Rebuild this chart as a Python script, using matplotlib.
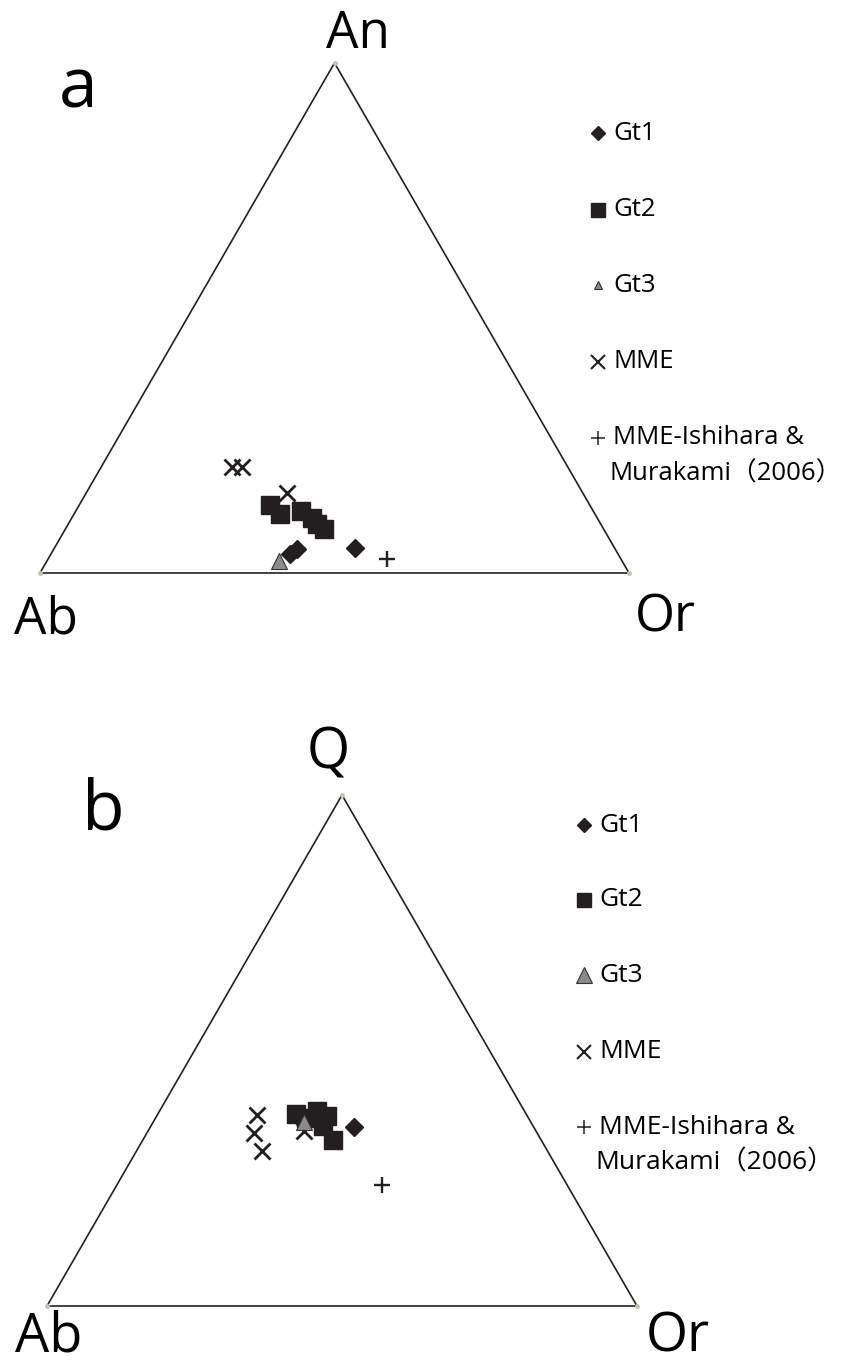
import numpy as np
import matplotlib
matplotlib.use("Agg")
import matplotlib.pyplot as plt

plt.rcParams["font.family"] = ["Open Sans", "Noto Sans CJK JP", "DejaVu Sans"]

W, H = 848, 1367
S3 = np.sqrt(3) / 2

# --- (a) Ab-An-Or normative feldspar, wt% ---
a_gt1 = {"Ab": [54.0, 55.7, 44.1], "An": [4.7, 3.7, 4.9], "Or": [41.3, 40.6, 51.0]}
a_gt2 = {"Ab": [54.3, 53.5, 49.6, 48.4, 48.2, 47.5],
         "An": [13.3, 11.6, 12.2, 10.8, 9.6, 8.6],
         "Or": [32.4, 34.9, 38.2, 40.8, 42.2, 43.9]}
a_gt3 = {"Ab": [58.2], "An": [2.4], "Or": [39.4]}
a_mme = {"Ab": [57.0, 55.3, 50.2], "An": [20.8, 20.8, 15.7], "Or": [22.2, 23.9, 34.1]}
a_ref = {"Ab": [39.8], "An": [2.7], "Or": [57.5]}

# --- (b) Ab-Q-Or ---
b_gt1 = {"Ab": [30.4], "Q": [35.1], "Or": [34.5]}
b_gt2 = {"Ab": [39.0, 37.8, 35.1, 34.0, 35.6, 35.3],
         "Q": [37.6, 36.7, 38.2, 37.1, 35.3, 32.4],
         "Or": [23.4, 25.5, 26.7, 28.9, 29.1, 32.3]}
b_gt3 = {"Ab": [38.4], "Q": [36.1], "Or": [25.5]}
b_mme = {"Ab": [45.7, 48.0, 48.4, 39.3], "Q": [37.3, 33.9, 30.4, 34.3],
         "Or": [17.0, 18.1, 21.2, 26.4]}
b_ref = {"Ab": [31.4], "Q": [23.7], "Or": [44.9]}

series_keys = ["Gt1", "Gt2", "Gt3", "MME", "ref"]
series_labels = ["Gt1", "Gt2", "Gt3", "MME", "MME-Ishihara &"]
ref_line2 = "Murakami\uff082006\uff09"


def tern(d, apex):
    # left corner Ab, right corner Or, top corner = apex
    ab, top, orr = (np.array(d[k], float) for k in ("Ab", apex, "Or"))
    tot = ab + top + orr
    top, orr = top / tot, orr / tot
    return orr + top / 2, top * S3


def make_axes(x0, y_base, side):
    ax = fig.add_axes([x0 / W, (H - y_base) / H, side / W, side * S3 / H])
    ax.set_xlim(0, 1)
    ax.set_ylim(0, S3)
    ax.axis("off")
    ax.plot([0, 1, 0.5, 0], [0, 0, S3, 0], color="#222222", lw=1.2,
            clip_on=False, zorder=1)
    ax.plot([0, 1, 0.5], [0, 0, S3], ls="none", marker="o", ms=2.5,
            color="#b9c9ad", clip_on=False, zorder=2)
    return ax


styles = {
    "Gt1": dict(marker="D", ms=9.5, color="#231f20", mec="#231f20"),
    "Gt2": dict(marker="s", ms=12.5, color="#231f20", mec="#231f20"),
    "Gt3": dict(marker="^", ms=11.5, color="#8a8a8a", mec="#333333", mew=0.8),
    "MME": dict(marker="x", ms=11.5, color="#231f20", mew=2.0),
    "ref": dict(marker="+", ms=11.5, color="#231f20", mew=1.7),
}


def draw(ax, groups, apex):
    for key, d in groups:
        x, y = tern(d, apex)
        ax.plot(x, y, ls="none", clip_on=False, zorder=3, **styles[key])


fig = plt.figure(figsize=(W / 100, H / 100), dpi=100)
fig.patch.set_facecolor("white")


def ftext(x, y, s, size, **kw):
    fig.text(x / W, 1 - y / H, s, fontsize=size, color="black", **kw)


# panel a
ax_a = make_axes(40, 573, 589)
draw(ax_a, [("MME", a_mme), ("Gt2", a_gt2), ("Gt1", a_gt1), ("Gt3", a_gt3),
            ("ref", a_ref)], "An")
ftext(78, 108, "a", 50, ha="center", va="baseline")
ftext(358, 48, "An", 37, ha="center", va="baseline")
ftext(46, 634, "Ab", 37, ha="center", va="baseline")
ftext(665, 632, "Or", 37, ha="center", va="baseline")

# panel b
ax_b = make_axes(47, 1306, 590)
draw(ax_b, [("MME", b_mme), ("Gt2", b_gt2), ("Gt3", b_gt3), ("Gt1", b_gt1),
            ("ref", b_ref)], "Q")
ftext(328, 768, "Q", 40, ha="center", va="baseline")
ftext(103, 830, "b", 50, ha="center", va="baseline")
ftext(49, 1352, "Ab", 39, ha="center", va="baseline")
ftext(678, 1352, "Or", 39, ha="center", va="baseline")

# legends, laid out in figure pixels on a transparent overlay
lg = fig.add_axes([0, 0, 1, 1])
lg.set_xlim(0, W)
lg.set_ylim(H, 0)
lg.axis("off")
lg.patch.set_alpha(0)

legend_sizes = {"Gt1": dict(ms=7.5), "Gt2": dict(ms=10.5),
                "MME": dict(ms=10.5, mew=1.5), "ref": dict(ms=10.5, mew=1.1)}


def legend(x, rows, gt3_ms, size=19):
    for key, label, y in zip(series_keys, series_labels, rows):
        st = dict(styles[key])
        st.update(legend_sizes.get(key, {}))
        if key == "Gt3":
            st["ms"] = gt3_ms
        lg.plot([x], [y], ls="none", **st)
        lg.text(x + 15, y, label, fontsize=size, va="center", ha="left")
    lg.text(x + 11, rows[-1] + 36, ref_line2, fontsize=size, va="center",
            ha="left")


legend(598, [133, 210, 285, 362, 438], 6, size=18.5)
legend(584, [825, 900, 975, 1052, 1127], 11)

fig.savefig("out.png", dpi=100, facecolor="white")
